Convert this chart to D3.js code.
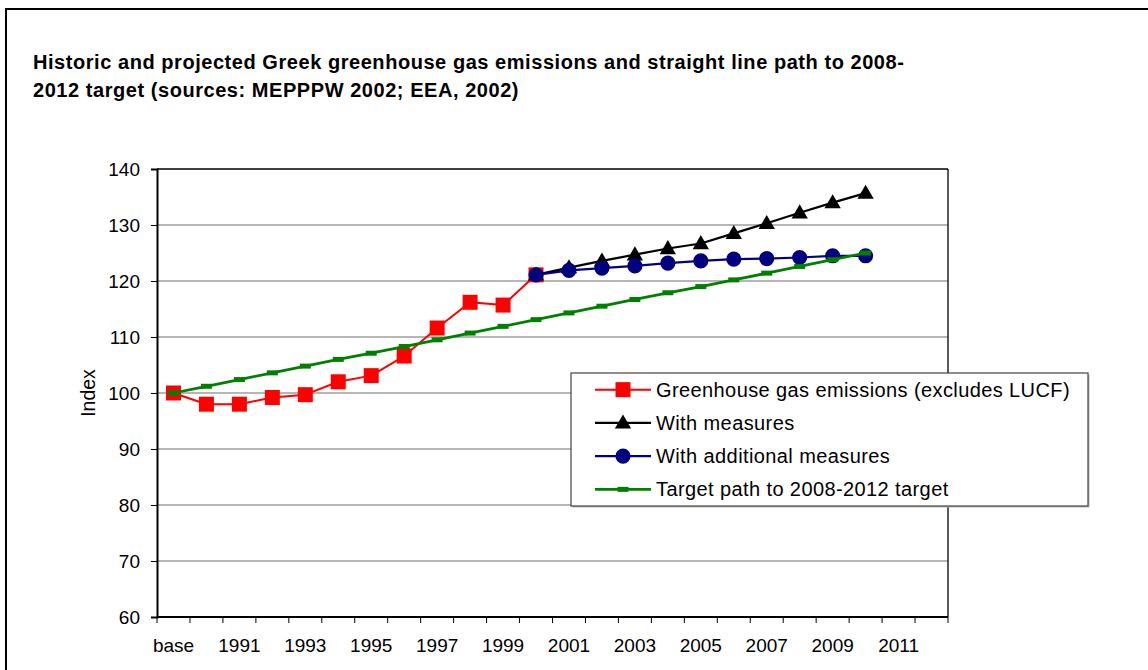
<!DOCTYPE html>
<html>
<head>
<meta charset="utf-8">
<script src="https://cdn.jsdelivr.net/npm/d3@7"></script>
<style>
  html, body { margin: 0; padding: 0; background: #fff; }
  svg { display: block; font-family: "Liberation Sans", Arial, sans-serif; }
</style>
</head>
<body>
<svg id="chart" width="1148" height="670"></svg>
<script>
// Category axis: base year followed by calendar years
const categories = ["base", "1990", "1991", "1992", "1993", "1994", "1995", "1996", "1997", "1998",
  "1999", "2000", "2001", "2002", "2003", "2004", "2005", "2006", "2007", "2008", "2009", "2010",
  "2011", "2012"];
const tickLabels = ["base", "1991", "1993", "1995", "1997", "1999", "2001", "2003", "2005", "2007",
  "2009", "2011"];
const yTicks = [60, 70, 80, 90, 100, 110, 120, 130, 140];

// Historic emissions, base .. 2000
const emissionsYears = ["base", "1990", "1991", "1992", "1993", "1994", "1995", "1996", "1997", "1998", "1999", "2000"];
const emissions = [100, 98.0, 98.0, 99.2, 99.7, 102.0, 103.1, 106.6, 111.6, 116.2, 115.7, 121.1];

// Projections, 2000 .. 2010
const projectionYears = ["2000", "2001", "2002", "2003", "2004", "2005", "2006", "2007", "2008", "2009", "2010"];
const withMeasures = [121.1, 122.4, 123.6, 124.7, 125.8, 126.7, 128.5, 130.3, 132.2, 134.0, 135.7];
const withAdditional = [121.1, 121.9, 122.3, 122.7, 123.2, 123.6, 123.9, 124.0, 124.2, 124.5, 124.5];

// Straight line path to the 2008-2012 target, base .. 2010
const targetYears = ["base", "1990", "1991", "1992", "1993", "1994", "1995", "1996", "1997", "1998",
  "1999", "2000", "2001", "2002", "2003", "2004", "2005", "2006", "2007", "2008", "2009", "2010"];
const targetPath = [100, 101.2, 102.4, 103.6, 104.8, 106.0, 107.1, 108.3, 109.5, 110.7, 111.9,
  113.1, 114.3, 115.5, 116.7, 117.9, 119.0, 120.2, 121.4, 122.6, 123.8, 125.0];

const seriesNames = ["Greenhouse gas emissions (excludes LUCF)", "With measures",
  "With additional measures", "Target path to 2008-2012 target"];

const svg = d3.select("#chart");

// Outer frame of the chart area
svg.append("rect")
  .attr("x", 6).attr("y", 9).attr("width", 1170).attr("height", 700)
  .attr("fill", "#fff").attr("stroke", "#000").attr("stroke-width", 2);

// Title
const title = svg.append("text")
  .attr("font-weight", "bold").attr("font-size", 20).attr("letter-spacing", 0.55).attr("fill", "#000");
title.append("tspan").attr("x", 33).attr("y", 69)
  .text("Historic and projected Greek greenhouse gas emissions and straight line path to 2008-");
title.append("tspan").attr("x", 33).attr("y", 97)
  .text("2012 target (sources: MEPPPW 2002; EEA, 2002)");

const plot = { left: 157, right: 948, top: 169, bottom: 617 };

const x = d3.scaleBand().domain(categories).range([plot.left, plot.right]).padding(0);
const y = d3.scaleLinear().domain([60, 140]).range([plot.bottom, plot.top]);
const cx = d => x(d) + x.bandwidth() / 2;

// Gridlines
svg.append("g")
  .selectAll("line")
  .data(yTicks.filter(v => v > 60 && v < 140))
  .join("line")
  .attr("x1", plot.left).attr("x2", plot.right)
  .attr("y1", d => y(d)).attr("y2", d => y(d))
  .attr("stroke", "#6e6e6e").attr("stroke-width", 1.2);

// Plot frame: top and right edges
svg.append("line")
  .attr("x1", plot.left).attr("x2", plot.right).attr("y1", plot.top).attr("y2", plot.top)
  .attr("stroke", "#000").attr("stroke-width", 1.3);
svg.append("line")
  .attr("x1", plot.right).attr("x2", plot.right).attr("y1", plot.top).attr("y2", plot.bottom)
  .attr("stroke", "#000").attr("stroke-width", 1.3);

// Y axis
const yAxis = svg.append("g")
  .attr("transform", `translate(${plot.left},0)`)
  .call(d3.axisLeft(y).tickValues(yTicks).tickSize(6).tickPadding(11));
yAxis.select(".domain").attr("stroke", "#000").attr("stroke-width", 2);
yAxis.selectAll(".tick line").attr("stroke", "#000");
yAxis.selectAll(".tick text")
  .attr("font-family", "Liberation Sans, Arial, sans-serif")
  .attr("font-size", 19).attr("fill", "#000");

// X axis: ticks on category boundaries, labels every other category
const xAxis = svg.append("g").attr("transform", `translate(0,${plot.bottom})`);
xAxis.append("line")
  .attr("x1", plot.left).attr("x2", plot.right)
  .attr("stroke", "#000").attr("stroke-width", 2);
xAxis.selectAll("line.tk")
  .data(categories.concat(["__end"]))
  .join("line").attr("class", "tk")
  .attr("x1", (d, i) => i < categories.length ? x(d) : plot.right)
  .attr("x2", (d, i) => i < categories.length ? x(d) : plot.right)
  .attr("y1", 0).attr("y2", 6)
  .attr("stroke", "#000").attr("stroke-width", 1);
xAxis.selectAll("text")
  .data(tickLabels)
  .join("text")
  .attr("x", d => cx(d)).attr("y", 35)
  .attr("text-anchor", "middle")
  .attr("font-size", 19).attr("fill", "#000")
  .text(d => d);

// Y axis title
svg.append("text")
  .attr("transform", `translate(95,${(plot.top + plot.bottom) / 2}) rotate(-90)`)
  .attr("text-anchor", "middle")
  .attr("font-size", 19.5).attr("fill", "#000")
  .text("Index");

// Marker drawing helpers
const symSquare = d3.symbol().type(d3.symbolSquare).size(225);
const symTriangle = d3.symbol().type(d3.symbolTriangle).size(115);
const symCircle = d3.symbol().type(d3.symbolCircle).size(180);

const markers = {
  square: (g, color) => g.append("path").attr("d", symSquare()).attr("fill", color),
  triangle: (g, color) => g.append("path").attr("d", symTriangle()).attr("fill", color)
    .attr("transform", "translate(0,1)"),
  circle: (g, color) => g.append("path").attr("d", symCircle()).attr("fill", color),
  dash: (g, color) => g.append("rect").attr("x", -5.5).attr("y", -2.5).attr("width", 11)
    .attr("height", 5).attr("fill", color)
};

const series = [
  { name: seriesNames[0], years: emissionsYears, values: emissions, color: "#ff0000", width: 2, marker: "square" },
  { name: seriesNames[1], years: projectionYears, values: withMeasures, color: "#000000", width: 2.2, marker: "triangle" },
  { name: seriesNames[2], years: projectionYears, values: withAdditional, color: "#000080", width: 2.2, marker: "circle" },
  { name: seriesNames[3], years: targetYears, values: targetPath, color: "#008000", width: 2.8, marker: "dash" }
];

const line = d3.line().x(d => cx(d.year)).y(d => y(d.value));

series.forEach(s => {
  const pts = s.years.map((yr, i) => ({ year: yr, value: s.values[i] }));
  const g = svg.append("g");
  g.append("path")
    .datum(pts)
    .attr("d", line)
    .attr("fill", "none")
    .attr("stroke", s.color)
    .attr("stroke-width", s.width)
    .attr("stroke-linejoin", "round");
  g.selectAll("g.pt")
    .data(pts)
    .join("g").attr("class", "pt")
    .attr("transform", d => `translate(${cx(d.year)},${y(d.value)})`)
    .each(function () { markers[s.marker](d3.select(this), s.color); });
});

// Legend
const legend = { x: 571, y: 373, w: 517, h: 133 };
svg.append("rect")
  .attr("x", legend.x + 1.5).attr("y", legend.y + 1.5).attr("width", legend.w).attr("height", legend.h)
  .attr("fill", "#b8b8b8");
svg.append("rect")
  .attr("x", legend.x).attr("y", legend.y).attr("width", legend.w).attr("height", legend.h)
  .attr("fill", "#fff").attr("stroke", "#444").attr("stroke-width", 1.2);

const rowH = legend.h / series.length;
series.forEach((s, i) => {
  const ry = legend.y + rowH * (i + 0.5);
  const g = svg.append("g").attr("transform", `translate(0,${ry})`);
  g.append("line")
    .attr("x1", 595).attr("x2", 651).attr("y1", 0).attr("y2", 0)
    .attr("stroke", s.color).attr("stroke-width", s.width);
  const m = g.append("g").attr("transform", "translate(623,0)");
  markers[s.marker](m, s.color);
  g.append("text")
    .attr("x", 656).attr("y", 7)
    .attr("font-size", 20).attr("letter-spacing", 0.4).attr("fill", "#000")
    .text(s.name);
});
</script>
</body>
</html>
